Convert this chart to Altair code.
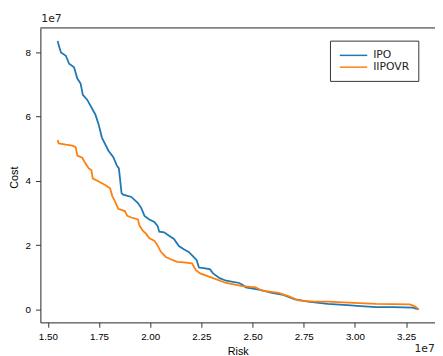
import altair as alt
import pandas as pd

ipo_risk = [1.548, 1.553, 1.564, 1.588, 1.604, 1.628, 1.644, 1.660, 1.671, 1.692, 1.732, 1.748, 1.764,
            1.796, 1.820, 1.836, 1.847, 1.860, 1.868, 1.908, 1.940, 1.956, 1.972, 1.996, 2.020, 2.036,
            2.044, 2.068, 2.092, 2.116, 2.140, 2.164, 2.188, 2.212, 2.227, 2.238, 2.260, 2.291, 2.307,
            2.339, 2.371, 2.435, 2.454, 2.467, 2.531, 2.595, 2.643, 2.707, 2.771, 2.867, 2.963, 3.027,
            3.103, 3.187, 3.282, 3.311]
ipo_cost = [8.36, 8.23, 8.00, 7.90, 7.65, 7.54, 7.19, 7.03, 6.68, 6.53, 6.07, 5.76, 5.35,
            4.94, 4.74, 4.49, 4.39, 3.62, 3.57, 3.50, 3.31, 3.16, 2.91, 2.80, 2.72, 2.60,
            2.42, 2.40, 2.29, 2.19, 1.97, 1.87, 1.79, 1.63, 1.53, 1.30, 1.28, 1.25, 1.12,
            0.97, 0.89, 0.82, 0.75, 0.68, 0.61, 0.51, 0.46, 0.31, 0.24, 0.17, 0.13, 0.10,
            0.07, 0.07, 0.05, 0.00]

iipovr_risk = [1.548, 1.553, 1.588, 1.620, 1.636, 1.644, 1.668, 1.684, 1.700, 1.713, 1.719, 1.748,
               1.780, 1.804, 1.815, 1.828, 1.844, 1.876, 1.888, 1.908, 1.940, 1.948, 1.964, 1.980,
               1.996, 2.020, 2.036, 2.052, 2.076, 2.100, 2.132, 2.164, 2.204, 2.223, 2.244, 2.307,
               2.371, 2.451, 2.515, 2.547, 2.627, 2.675, 2.723, 2.803, 2.867, 2.995, 3.103, 3.267,
               3.291, 3.311]
iipovr_cost = [5.27, 5.17, 5.13, 5.10, 5.05, 4.79, 4.72, 4.54, 4.39, 4.33, 4.08, 3.98,
               3.87, 3.77, 3.52, 3.36, 3.13, 3.06, 2.91, 2.86, 2.80, 2.60, 2.45, 2.35,
               2.21, 2.14, 1.99, 1.79, 1.63, 1.56, 1.48, 1.46, 1.43, 1.22, 1.12, 0.97,
               0.82, 0.72, 0.68, 0.58, 0.51, 0.41, 0.28, 0.24, 0.24, 0.20, 0.17, 0.15,
               0.10, 0.00]

series_names = ["IPO", "IIPOVR"]
series_colors = ["#1f77b4", "#ff7f0e"]

rows = []
for i, (r, c) in enumerate(zip(ipo_risk, ipo_cost)):
    rows.append({"Risk": r, "Cost": c, "series": "IPO", "order": i})
for i, (r, c) in enumerate(zip(iipovr_risk, iipovr_cost)):
    rows.append({"Risk": r, "Cost": c, "series": "IIPOVR", "order": i})
df = pd.DataFrame(rows)

W, H = 402, 300
FONT = "DejaVu Sans"
AX = "#333333"
TXT = "#222222"

x_scale = alt.Scale(domain=[1.4636, 3.391], nice=False, zero=False)
y_scale = alt.Scale(domain=[-0.407, 8.767], nice=False, zero=False)

lines = alt.Chart(df).mark_line(strokeWidth=1.8).encode(
    x=alt.X("Risk:Q", scale=x_scale,
            axis=alt.Axis(title="Risk", values=[1.5, 1.75, 2.0, 2.25, 2.5, 2.75, 3.0, 3.25],
                          format=".2f", grid=False, tickSize=5, labelPadding=4,
                          titlePadding=5, domainColor=AX, tickColor=AX,
                          titleFontWeight="normal")),
    y=alt.Y("Cost:Q", scale=y_scale,
            axis=alt.Axis(title="Cost", values=[0, 2, 4, 6, 8], format="d", grid=False,
                          tickSize=5, labelPadding=5, domainColor=AX, tickColor=AX,
                          titleX=-26, titleY=152, titleAngle=-90, titleAlign="center",
                          titleBaseline="middle", titleFontWeight="normal")),
    color=alt.Color("series:N", scale=alt.Scale(domain=series_names, range=series_colors),
                    sort=series_names,
                    legend=alt.Legend(title=None, orient="none", legendX=295, legendY=13,
                                      symbolType="M-1,0H4.6", symbolSize=100,
                                      symbolStrokeWidth=1.5,
                                      labelFontSize=11, labelFont=FONT, labelColor=TXT,
                                      strokeColor=AX, fillColor="white", padding=9,
                                      cornerRadius=0, labelOffset=23, rowPadding=1)),
    order="order:Q",
)

top_spine = alt.Chart(pd.DataFrame({"a": [0]})).mark_rule(color=AX, strokeWidth=1).encode(
    x=alt.value(0), x2=alt.value(W), y=alt.value(0)
)

offset_top = alt.Chart(pd.DataFrame({"t": ["1e7"]})).mark_text(
    align="left", baseline="bottom", fontSize=11, font=FONT, color=TXT
).encode(text="t:N", x=alt.value(1), y=alt.value(-4))
offset_bottom = alt.Chart(pd.DataFrame({"t": ["1e7"]})).mark_text(
    align="left", baseline="middle", fontSize=11, font=FONT, color=TXT
).encode(text="t:N", x=alt.value(381), y=alt.value(327))

chart = alt.layer(lines, top_spine, offset_top, offset_bottom).properties(
    width=W, height=H,
    autosize=alt.AutoSizeParams(type="none"),
    padding={"left": 33, "top": 17, "right": 0, "bottom": 31},
).configure_view(stroke=None).configure_axis(
    labelFont=FONT, titleFont=FONT, labelFontSize=11, titleFontSize=11,
    labelColor=TXT, titleColor=TXT
).configure(background="white")

chart.save("out.html", embed_options={"renderer": "svg", "actions": False})
